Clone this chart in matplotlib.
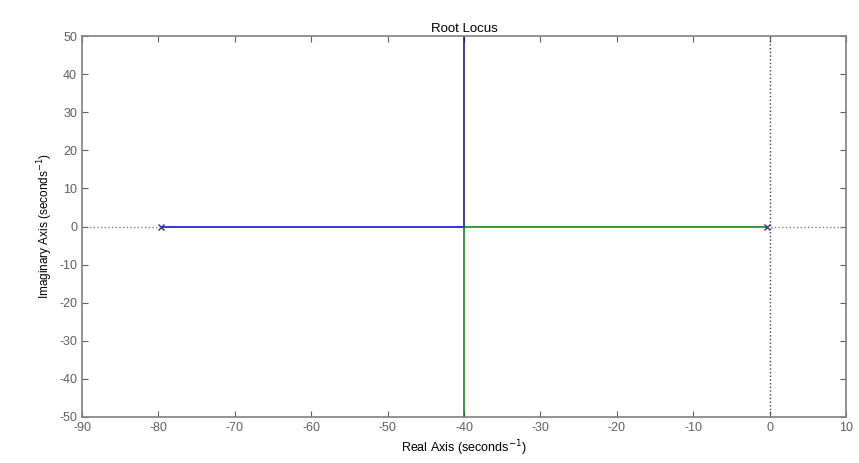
import numpy as np
import matplotlib.pyplot as plt

plt.rcParams['font.family'] = ['Liberation Sans', 'DejaVu Sans']
plt.rcParams['axes.unicode_minus'] = False

# polos e ponto de separacao
poles_re = [-79.6, -0.4]
break_re = -40.0
branch1_re = [-79.6, -40.0, -40.0]
branch1_im = [0.0, 0.0, 50.0]
branch2_re = [-0.4, -40.0, -40.0]
branch2_im = [0.0, 0.0, -50.0]
xticks = [-90, -80, -70, -60, -50, -40, -30, -20, -10, 0, 10]
yticks = [-50, -40, -30, -20, -10, 0, 10, 20, 30, 40, 50]

fig = plt.figure(figsize=(8.59, 4.63), dpi=100)
ax = fig.add_axes([0.0955, 0.0994, 0.8895, 0.8226])

gray = '#808080'
ax.plot(branch1_re, branch1_im, color='#0000c8', lw=1.1)
ax.plot(branch2_re, branch2_im, color='#007f00', lw=1.1)
ax.plot(poles_re, [0, 0], 'x', color='#303090', ms=5, mew=1)

# linhas pontilhadas
ax.plot([-90, poles_re[0]], [0, 0], ':', color=gray, lw=1)
ax.plot([poles_re[1], 10], [0, 0], ':', color=gray, lw=1)
ax.axvline(0, ls=':', color='#404040', lw=1)

ax.set_xlim(-90, 10)
ax.set_ylim(-50, 50)
ax.set_xticks(xticks)
ax.set_yticks(yticks)
ax.tick_params(direction='in', top=True, right=True, labelsize=9, colors='#606060', length=4)
for s in ax.spines.values():
    s.set_color(gray)
    s.set_linewidth(1.2)

ax.set_title('Root Locus', fontsize=9.5, pad=3)
ax.set_xlabel('Real Axis (seconds$^{-1}$)', fontsize=9, labelpad=3)
ax.set_ylabel('Imaginary Axis (seconds$^{-1}$)', fontsize=8.5, labelpad=3)

plt.savefig('out.png', dpi=100)
